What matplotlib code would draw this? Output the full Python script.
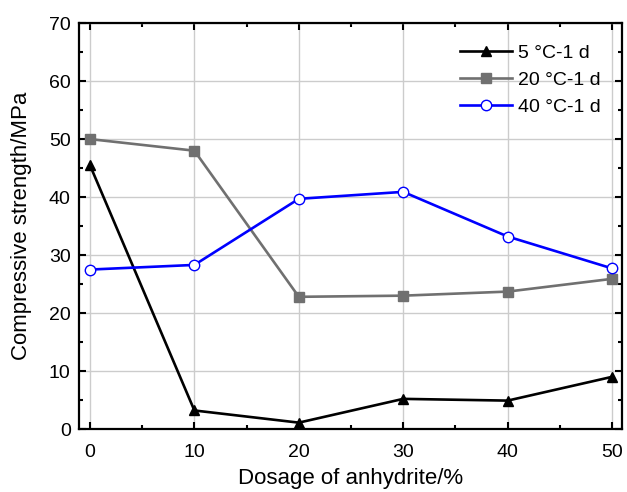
import matplotlib
matplotlib.use('Agg')
import matplotlib.pyplot as plt
from matplotlib.ticker import MultipleLocator

plt.rcParams['font.family'] = ['Liberation Sans', 'DejaVu Sans']

dosage = [0, 10, 20, 30, 40, 50]
strength_5c = [45.5, 3.2, 1.1, 5.2, 4.9, 9.0]
strength_20c = [50.0, 48.0, 22.8, 23.0, 23.7, 25.9]
strength_40c = [27.5, 28.3, 39.7, 40.9, 33.2, 27.7]
labels = ['5 °C-1 d', '20 °C-1 d', '40 °C-1 d']

fig = plt.figure(figsize=(6.27, 4.92), dpi=100)
ax = fig.add_axes([0.126, 0.128, 0.866, 0.825])

ax.plot(dosage, strength_5c, color='black', lw=1.9, marker='^', ms=7.5, label=labels[0])
ax.plot(dosage, strength_20c, color='#707070', lw=1.9, marker='s', ms=6.5, label=labels[1])
ax.plot(dosage, strength_40c, color='#0000ff', lw=1.9, marker='o', ms=7.5,
        markerfacecolor='white', markeredgewidth=1, label=labels[2])

ax.set_xlim(-1.05, 50.95)
ax.set_ylim(0, 70)
ax.xaxis.set_major_locator(MultipleLocator(10))
ax.xaxis.set_minor_locator(MultipleLocator(5))
ax.yaxis.set_major_locator(MultipleLocator(10))
ax.yaxis.set_minor_locator(MultipleLocator(5))
ax.tick_params(which='both', direction='in', top=True, right=True, labelsize=14, width=1.5)
ax.tick_params(which='major', length=5)
ax.tick_params(axis='x', which='major', pad=11)
ax.tick_params(axis='y', which='major', pad=6)
ax.tick_params(which='minor', length=3)
ax.grid(True, which='major', color='#cccccc', lw=1)
ax.set_axisbelow(True)
for s in ax.spines.values():
    s.set_linewidth(1.6)

ax.set_xlabel('Dosage of anhydrite/%', fontsize=16, labelpad=5)
ax.set_ylabel('Compressive strength/MPa', fontsize=16, labelpad=12)

ax.legend(loc='upper right', frameon=False, fontsize=14, handlelength=2.7,
          handletextpad=0.3, labelspacing=0.48, borderaxespad=0.7)

fig.savefig('out.png', dpi=100)
